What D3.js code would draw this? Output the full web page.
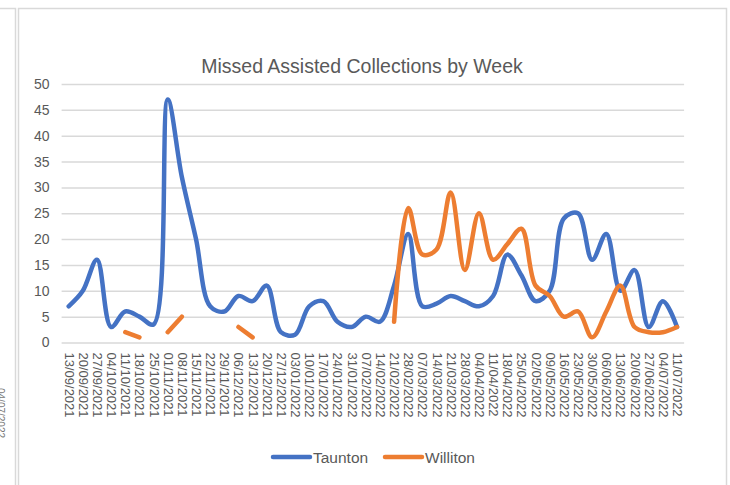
<!DOCTYPE html>
<html>
<head>
<meta charset="utf-8">
<script src="https://cdnjs.cloudflare.com/ajax/libs/d3/7.8.5/d3.min.js"></script>
<style>
  html, body { margin: 0; padding: 0; background: #ffffff; }
  svg { display: block; }
</style>
</head>
<body>
<svg id="chart" width="730" height="485"></svg>
<script>
// Week-commencing dates (category axis)
const weeks = [
  "13/09/2021","20/09/2021","27/09/2021","04/10/2021","11/10/2021","18/10/2021",
  "25/10/2021","01/11/2021","08/11/2021","15/11/2021","22/11/2021","29/11/2021",
  "06/12/2021","13/12/2021","20/12/2021","27/12/2021","03/01/2022","10/01/2022",
  "17/01/2022","24/01/2022","31/01/2022","07/02/2022","14/02/2022","21/02/2022",
  "28/02/2022","07/03/2022","14/03/2022","21/03/2022","28/03/2022","04/04/2022",
  "11/04/2022","18/04/2022","25/04/2022","02/05/2022","09/05/2022","16/05/2022",
  "23/05/2022","30/05/2022","06/06/2022","13/06/2022","20/06/2022","27/06/2022",
  "04/07/2022","11/07/2022"
];

// Missed assisted collections per week
const taunton = [
  7, 10, 16, 3, 6, 5, 3.5, 47, 32, 20, 7, 6, 9, 8, 11, 2, 1.5, 7, 8, 4, 3, 5,
  4, 11, 21, 7, 7.5, 9, 8, 7, 9, 17, 13, 8, 10, 24, 25, 16, 21, 10, 14, 3, 8, 3
];
// null = no figure reported that week
const williton = [
  null, null, null, null, 2, 1, null, 2, 5, null, null, null, 3, 1, null, null,
  null, null, null, null, null, null, null, 4, 26, 17, 18, 29, 14, 25, 16, 19,
  22, 11, 9, 5, 6, 1, 6, 11, 3, 2, 2, 3
];

const yTicks = [0, 5, 10, 15, 20, 25, 30, 35, 40, 45, 50];
const seriesNames = ["Taunton", "Williton"];
const seriesColors = ["#4472C4", "#ED7D31"];

const svg = d3.select("#chart");
const textColor = "#595959";
const gridColor = "#d9d9d9";
const font = "'Liberation Sans', Arial, sans-serif";
const narrowFont = "'Liberation Sans Narrow', 'Arial Narrow', 'Liberation Sans', sans-serif";

// Surrounding frames
svg.append("path")
  .attr("d", "M0,8.5H15.5V485")
  .attr("fill", "none").attr("stroke", gridColor).attr("stroke-width", 1.5);
svg.append("path")
  .attr("d", "M18.5,490V8.5H726.5V490")
  .attr("fill", "none").attr("stroke", gridColor).attr("stroke-width", 1.5);

// Partly visible date at the far left edge
svg.append("text")
  .attr("transform", "translate(-3,388) rotate(90)")
  .attr("font-family", font).attr("font-size", 10)
  .attr("fill", "#777").text("04/07/2022");

const plot = { left: 61.6, right: 684.1, top: 84, bottom: 342.5 };

const x = d3.scalePoint()
  .domain(weeks)
  .range([plot.left, plot.right])
  .padding(0.5);

const y = d3.scaleLinear()
  .domain([0, 50])
  .range([plot.bottom, plot.top]);

// Title
svg.append("text")
  .attr("x", 362).attr("y", 73)
  .attr("text-anchor", "middle")
  .attr("font-family", narrowFont).attr("font-size", 19.5)
  .attr("fill", textColor)
  .text("Missed Assisted Collections by Week");

// Horizontal gridlines + y labels
const yAxis = d3.axisLeft(y).tickValues(yTicks).tickSize(-(plot.right - plot.left)).tickPadding(12);
const gy = svg.append("g")
  .attr("transform", `translate(${plot.left},0)`)
  .call(yAxis);
gy.select(".domain").remove();
gy.selectAll(".tick line").attr("stroke", gridColor).attr("stroke-width", 1.5);
gy.selectAll(".tick text")
  .attr("font-family", font).attr("font-size", 14)
  .attr("fill", textColor);

// Category axis with rotated date labels
const xAxis = d3.axisBottom(x).tickSize(0).tickPadding(0);
const gx = svg.append("g")
  .attr("transform", `translate(0,${plot.bottom})`)
  .call(xAxis);
gx.select(".domain").remove();
gx.selectAll(".tick text")
  .attr("font-family", font).attr("font-size", 13)
  .attr("fill", textColor)
  .attr("text-anchor", "start")
  .attr("dy", null)
  .attr("dominant-baseline", "central")
  .attr("transform", "translate(0,10) rotate(90)")
  .attr("x", 0).attr("y", 0);

// Series lines (smoothed, gaps where no value)
const line = d3.line()
  .defined(d => d.v !== null)
  .x(d => x(d.w))
  .y(d => y(d.v))
  .curve(d3.curveCatmullRom.alpha(0.5));

[taunton, williton].forEach((vals, i) => {
  const data = weeks.map((w, j) => ({ w, v: vals[j] }));
  svg.append("path")
    .datum(data)
    .attr("d", line)
    .attr("fill", "none")
    .attr("stroke", seriesColors[i])
    .attr("stroke-width", 4.5)
    .attr("stroke-linecap", "round")
    .attr("stroke-linejoin", "round");
});

// Legend
const legendPos = [273, 385];
seriesNames.forEach((name, i) => {
  const g = svg.append("g").attr("transform", `translate(${legendPos[i]},457)`);
  g.append("line")
    .attr("x1", 0).attr("x2", 37).attr("y1", 0).attr("y2", 0)
    .attr("stroke", seriesColors[i]).attr("stroke-width", 4.5)
    .attr("stroke-linecap", "round");
  g.append("text")
    .attr("x", 40).attr("y", 0).attr("dy", "0.36em")
    .attr("font-family", font).attr("font-size", 15.5)
    .attr("fill", textColor)
    .text(name);
});
</script>
</body>
</html>
